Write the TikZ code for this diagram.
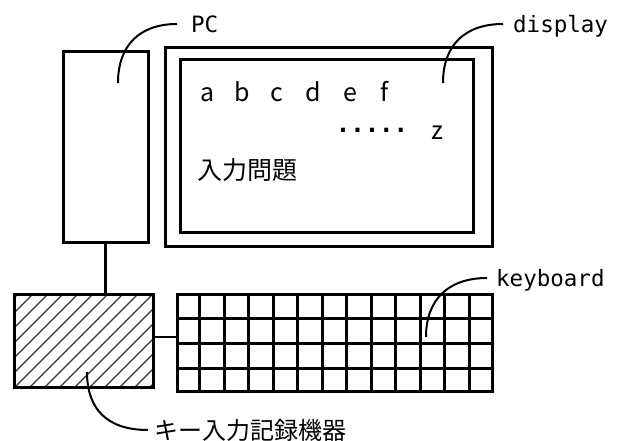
\documentclass[tikz,border=0pt]{standalone}
\usepackage{fontspec}
\setmainfont{DejaVu Sans Mono}
\newfontfamily\cjk{Noto Sans CJK JP}
\usetikzlibrary{calc}
\tikzset{
 boxline/.style={draw, line width=3pt, inner sep=0pt},
 lead/.style={line width=2pt},
 lbl/.style={font=\fontsize{22.5}{27}\selectfont, anchor=west, inner ysep=0pt, text height=16.5pt, text depth=0pt},
 jlbl/.style={font=\cjk\fontsize{24}{28}\selectfont, anchor=west, inner ysep=0pt},
 scr/.style={font=\cjk\fontsize{25}{30}\selectfont, inner sep=0pt, anchor=base},
 grid/.style={line width=3pt},
 hatch/.style={line width=1.1pt, black!80},
}
\begin{document}
\begin{tikzpicture}[x=1pt,y=-1pt]
\useasboundingbox (0,0) rectangle (625,441);
% boxes
\node[boxline, minimum width=85pt, minimum height=191pt] (pc) at (105.5,147.5) {};
\node[boxline, minimum width=327pt, minimum height=199pt] (dout) at (328.5,147.5) {};
\node[boxline, minimum width=293pt, minimum height=173pt] (din) at (326.5,146.5) {};
\node[boxline, minimum width=139pt, minimum height=93pt,
  path picture={\foreach \k in {-8,...,10}{\draw[hatch] ($(path picture bounding box.south west)+(15*\k,0)$) -- ++(100,-100);}}] (rec) at (83.5,341.5) {};
\node[boxline, minimum width=315pt, minimum height=97pt] (kb) at (334.5,343.5) {};
% keyboard grid
\foreach \i in {1,...,12} \draw[grid] ($(kb.north west)!\i/13!(kb.north east)$) -- ($(kb.south west)!\i/13!(kb.south east)$);
\foreach \j in {1,2,3} \draw[grid] ($(kb.north west)!\j/4!(kb.south west)$) -- ($(kb.north east)!\j/4!(kb.south east)$);
% connectors
\draw[line width=2.6pt] (pc.south) -- (pc.south |- rec.north);
\coordinate (rk) at ([yshift=4.5pt]rec.east);
\draw[line width=2.6pt] (rk) -- (rk -| kb.west);
% labels
\node[lbl, inner xsep=14pt] (pcl) at (177,24) {PC};
\node[lbl, inner xsep=10pt] (dl) at (503,24) {display};
\node[lbl, inner xsep=9pt] (kl) at (487,278) {keyboard};
\node[jlbl, inner xsep=6pt] (rl) at (148,430) {キー入力記録機器};
% callouts
\coordinate (pcp) at (118,83);
\draw[lead] (pcp) .. controls (118,45) and (140,24) .. (pcl.west);
\coordinate (dp) at (443,83);
\draw[lead] (dp) .. controls (443,45) and (465,24) .. (dl.west);
\coordinate (kp) at (426,337);
\draw[lead] (kp) .. controls (426,300) and (448,278) .. (kl.west);
\coordinate (rp) at (87,372);
\draw[lead] (rp) .. controls (87,410) and (108,430) .. (rl.west);
% screen text
\foreach \c/\x in {a/208,b/242,c/277,d/313,e/350,f/385} \node[scr] (l\c) at (\x,102) {\c};
\node[font=\bfseries\fontsize{24}{28}\selectfont, inner sep=0pt, anchor=base] (dots) at (372,133) {.....};
\node[scr] (lz) at (437,140) {z};
\node[font=\cjk\fontsize{25}{30}\selectfont, inner sep=0pt, anchor=west] (q) at (197,170) {入力問題};
\end{tikzpicture}
\end{document}
